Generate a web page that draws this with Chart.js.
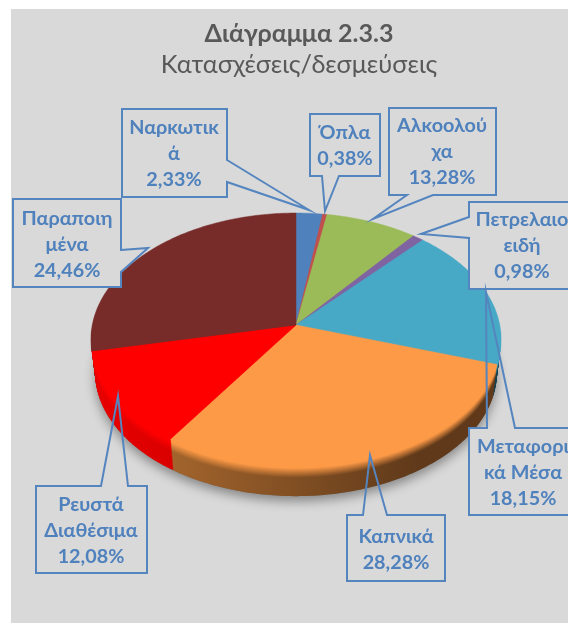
<!DOCTYPE html>
<html lang="el">
<head>
<meta charset="utf-8">
<style>html,body{margin:0;padding:0;background:#fff}canvas{display:block}</style>
<script src="https://cdn.jsdelivr.net/npm/chart.js@4"></script>
</head>
<body>
<canvas id="c" width="568" height="623"></canvas>
<script>
const titleText = "Διάγραμμα 2.3.3";
const subtitleText = "Κατασχέσεις/δεσμεύσεις";
const categories = ["Ναρκωτικά","Όπλα","Αλκοολούχα","Πετρελαιοειδή","Μεταφορικά Μέσα","Καπνικά","Ρευστά Διαθέσιμα","Παραποιημένα"];
// Slice sizes; the printed labels below do not agree with them for every slice.
const sliceShares = [2.33,0.38,8.1,0.98,18.15,29.5,12.3,28.26];
const printedPercents = ["2,33%","0,38%","13,28%","0,98%","18,15%","28,28%","12,08%","24,46%"];
const labelLines = [["Ναρκωτικ","ά"],["Όπλα"],["Αλκοολού","χα"],["Πετρελαιο","ειδή"],["Μεταφορι","κά Μέσα"],["Καπνικά"],["Ρευστά","Διαθέσιμα"],["Παραποιη","μένα"]];
const faceColors = ["#4F81BD","#C0504D","#9BBB59","#8064A2","#47A9C6","#FD9A47","#FF0000","#772C2A"];
const wallLeft  = ["#3A5F8C","#8C3A38","#72893F","#5C4876","#2F7488","#B87232","#E80000","#591F1E"];
const wallRight = ["#2A4466","#662A28","#52632D","#423355","#163F4C","#5F391A","#B00000","#3F1615"];

// Perspective of the pie
const P = {cx:296, cy:325, a:124.8, b:203.7, k:0.1146, depth:33, shrink:0.02};
// Callout frames: box, outline with a gap at the pointer base, centre x, first line centre y
const callouts = [
 {box:[122,109,105,88], path:[[227,160],[309,210],[227,182],[227,197],[122,197],[122,109],[227,109]], tx:174, ty:128},
 {box:[310,114,70,62], path:[[322,176],[325,211],[339,176],[380,176],[380,114],[310,114],[310,176]], tx:345, ty:133},
 {box:[389,108,107,87], path:[[407,195],[373,219],[433,195],[496,195],[496,108],[389,108],[389,195]], tx:442, ty:126},
 {box:[469,202,110,87], path:[[469,217],[421,234],[469,238],[469,289],[579,289],[579,202],[469,202]], tx:522, ty:220},
 {box:[469,428,110,87], path:[[487,428],[486,292],[515,428],[579,428],[579,515],[469,515],[469,428]], tx:523, ty:447},
 {box:[347,515,98,66], path:[[363,515],[370,455],[387,515],[445,515],[445,581],[347,581],[347,515]], tx:396, ty:537},
 {box:[36,486,111,87], path:[[101,486],[118,396],[128,486],[147,486],[147,573],[36,573],[36,486]], tx:91, ty:505},
 {box:[13,199,108,88], path:[[121,250],[148,248],[121,272],[121,287],[13,287],[13,199],[121,199]], tx:67, ty:219}
];

function project(alpha, d){
  const u=Math.cos(alpha), v=Math.sin(alpha), w=1-P.k*v;
  const s=1-P.shrink*(d/P.depth);
  return [P.cx+P.b*u/w*s, P.cy+P.a*v/w*s+d];
}
function sector(ctx, el, d){
  const {startAngle:s,endAngle:e}=el.getProps(['startAngle','endAngle'],true);
  const n=Math.max(2,Math.ceil((e-s)/0.015));
  ctx.beginPath();
  ctx.moveTo(P.cx,P.cy+d);
  for(let i=0;i<=n;i++){const p=project(s+(e-s)*i/n,d);ctx.lineTo(p[0],p[1]);}
  ctx.closePath();
}
function hex(c){return [1,3,5].map(i=>parseInt(c.substr(i,2),16));}
function mixRgb(a,b,t){return a.map((x,i)=>x+(b[i]-x)*t);}

const piePlugin = {
 id:'pie3d',
 beforeDraw(chart){
   const ctx=chart.ctx;
   ctx.fillStyle='#fff';ctx.fillRect(0,0,568,623);
   ctx.fillStyle='#D9D9D9';ctx.fillRect(11,9,557,614);
 },
 beforeDatasetDraw(chart){
   const ctx=chart.ctx, els=chart.getDatasetMeta(0).data;
   ctx.save();
   // soft shadow under the disc
   ctx.save();
   ctx.shadowColor='rgba(0,0,0,0.38)';ctx.shadowBlur=11;ctx.shadowOffsetY=5;
   ctx.fillStyle='#777';
   ctx.beginPath();
   for(let i=0;i<=360;i++){const p=project(i*Math.PI/180,P.depth);i?ctx.lineTo(p[0],p[1]):ctx.moveTo(p[0],p[1]);}
   ctx.closePath();ctx.fill();
   ctx.restore();
   // wall and bevel, bottom layer up
   for(let d=P.depth;d>=1;d--){
     const t=d/P.depth, f=Math.min(1,Math.max(0,(t-0.08)/0.32));
     els.forEach((el,i)=>{
       const g=ctx.createLinearGradient(91,0,420,0);
       const fc=hex(faceColors[i]);
       const L=mixRgb(fc,hex(wallLeft[i]),f), R=mixRgb(fc,hex(wallRight[i]),f);
       const css=a=>'rgb('+a.map(Math.round).join(',')+')';
       g.addColorStop(0,css(L));g.addColorStop(1,css(R));
       ctx.fillStyle=g;sector(ctx,el,d);ctx.fill();
     });
   }
   // top faces
   els.forEach((el,i)=>{
     sector(ctx,el,0);ctx.fillStyle=faceColors[i];ctx.fill();
     ctx.strokeStyle=faceColors[i];ctx.lineWidth=0.5;ctx.stroke();
   });
   ctx.restore();
   return false;
 },
 afterDatasetsDraw(chart){
   const ctx=chart.ctx;
   ctx.save();
   callouts.forEach((c,i)=>{
     ctx.fillStyle='#D9D9D9';ctx.fillRect(c.box[0],c.box[1],c.box[2],c.box[3]);
     ctx.strokeStyle='#5585BF';ctx.lineWidth=2;ctx.lineJoin='miter';
     ctx.beginPath();
     c.path.forEach((p,j)=>j?ctx.lineTo(p[0],p[1]):ctx.moveTo(p[0],p[1]));
     ctx.closePath();
     ctx.stroke();
     ctx.fillStyle='#4F81BD';
     ctx.font='bold 19.8px Lato, "Noto Sans", sans-serif';
     ctx.textAlign='center';ctx.textBaseline='middle';
     labelLines[i].concat(printedPercents[i]).forEach((s,j)=>ctx.fillText(s,c.tx,c.ty+j*26));
   });
   ctx.restore();
 }
};

new Chart(document.getElementById('c'),{
 type:'pie',
 data:{labels:categories,datasets:[{data:sliceShares,backgroundColor:faceColors,borderWidth:0}]},
 plugins:[piePlugin],
 options:{
  responsive:false,animation:false,
  layout:{padding:{left:30,top:19,bottom:100,right:0}},
  plugins:{
   legend:{display:false},tooltip:{enabled:false},
   title:{display:true,text:titleText,color:'#595959',font:{family:'Lato, "Noto Sans", sans-serif',size:25,weight:'bold'},padding:{top:0,bottom:1}},
   subtitle:{display:true,text:subtitleText,color:'#595959',font:{family:'Lato, "Noto Sans", sans-serif',size:25.3,weight:'normal'},padding:{bottom:10}}
  }
 }
});
</script>
</body>
</html>
